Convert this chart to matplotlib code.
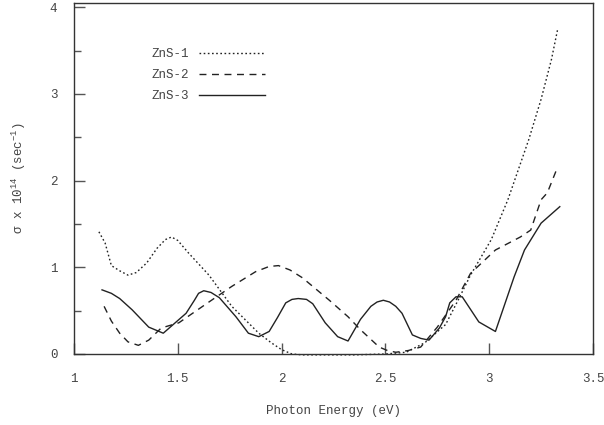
import matplotlib
matplotlib.use("Agg")
import matplotlib.pyplot as plt
from matplotlib.ticker import MultipleLocator

# values (photon energy eV, sigma x 1e14 sec^-1)
zns1_x = [1.12, 1.15, 1.18, 1.22, 1.26, 1.30, 1.35, 1.40, 1.44, 1.47, 1.50, 1.55, 1.65, 1.76, 1.89, 1.95,
          2.00, 2.05, 2.10, 2.20, 2.35, 2.50, 2.60, 2.69, 2.79, 2.85, 2.91, 3.01, 3.09, 3.19, 3.25,
          3.30, 3.33]
zns1_y = [1.41, 1.28, 1.02, 0.96, 0.91, 0.94, 1.05, 1.22, 1.32, 1.35, 1.31, 1.17, 0.91, 0.55, 0.24, 0.13,
          0.05, 0.0, -0.01, -0.01, -0.01, 0.00, 0.02, 0.13, 0.34, 0.62, 0.91, 1.32, 1.78, 2.47, 2.94,
          3.40, 3.75]

zns2_x = [1.145, 1.18, 1.22, 1.26, 1.31, 1.36, 1.42, 1.505, 1.65, 1.76, 1.875, 1.94, 1.985, 2.04, 2.10,
          2.23, 2.32, 2.38, 2.47, 2.51, 2.55, 2.61, 2.67, 2.75, 2.84, 2.91, 3.03, 3.15, 3.20, 3.25,
          3.28, 3.33]
zns2_y = [0.55, 0.38, 0.24, 0.14, 0.10, 0.16, 0.30, 0.36, 0.60, 0.78, 0.95, 1.01, 1.02, 0.97, 0.88,
          0.62, 0.43, 0.28, 0.08, 0.04, 0.02, 0.04, 0.08, 0.31, 0.62, 0.93, 1.20, 1.35, 1.43, 1.78,
          1.86, 2.16]

zns3_x = [1.135, 1.18, 1.22, 1.28, 1.36, 1.43, 1.54, 1.58, 1.60, 1.625, 1.66, 1.70, 1.78, 1.84, 1.89,
          1.94, 1.98, 2.02, 2.05, 2.08, 2.12, 2.15, 2.21, 2.27, 2.32, 2.38, 2.43, 2.46, 2.49, 2.52,
          2.55, 2.58, 2.63, 2.67, 2.71, 2.76, 2.79, 2.81, 2.84, 2.87, 2.95, 3.03, 3.12, 3.17, 3.25,
          3.34]
zns3_y = [0.74, 0.70, 0.64, 0.51, 0.31, 0.24, 0.47, 0.62, 0.70, 0.73, 0.71, 0.65, 0.43, 0.24, 0.20,
          0.26, 0.42, 0.59, 0.63, 0.64, 0.63, 0.58, 0.36, 0.20, 0.15, 0.40, 0.55, 0.60, 0.62, 0.60,
          0.55, 0.47, 0.22, 0.18, 0.16, 0.30, 0.43, 0.59, 0.66, 0.66, 0.37, 0.26, 0.89, 1.20, 1.51,
          1.70]

labels = ["ZnS-1", "ZnS-2", "ZnS-3"]
x_ticks = [1, 1.5, 2, 2.5, 3, 3.5]
y_ticks = [0, 1, 2, 3, 4]

plt.rcParams.update({
    "font.family": ["Liberation Mono", "DejaVu Sans Mono"],
    "mathtext.default": "regular",
    "font.size": 9,
})

fig = plt.figure(figsize=(6.04, 4.25), dpi=100)
ax = fig.add_axes([74 / 604, 1 - 354 / 425, (593 - 74) / 604, (354 - 3) / 425])

ink = "#222222"
ax.plot(zns1_x, zns1_y, color=ink, lw=1.0, ls=(0, (1.2, 1.8)), label=labels[0], clip_on=False)
ax.plot(zns2_x, zns2_y, color=ink, lw=1.0, ls=(0, (5, 4)), label=labels[1])
ax.plot(zns3_x, zns3_y, color=ink, lw=1.0, ls="-", label=labels[2])

ax.set_xlim(1, 3.5)
ax.set_ylim(0, 4.05)
ax.set_xticks(x_ticks)
ax.set_xticklabels([f"{t:g}" for t in x_ticks])
ax.set_yticks(y_ticks)
ax.yaxis.set_minor_locator(MultipleLocator(0.5))

ax.tick_params(axis="both", which="major", direction="in", length=8, width=1.0,
               color="#555555", labelcolor="#444444", top=False, right=False)
ax.tick_params(axis="y", which="minor", direction="in", length=5, width=1.0,
               color="#555555", right=False)
ax.tick_params(axis="x", pad=14)
ax.tick_params(axis="y", pad=12)

for side in ax.spines.values():
    side.set_color("#333333")
    side.set_linewidth(1.0)

ax.set_xlabel("Photon Energy (eV)", color="#444444", labelpad=14)
ax.set_ylabel(r"σ x 10$^{14}$ (sec$^{-1}$)", color="#444444", labelpad=16)

leg = ax.legend(loc="upper left", bbox_to_anchor=(0.14, 0.885), frameon=False,
                markerfirst=False, handlelength=5.3, handletextpad=0.8, labelspacing=0.72,
                borderaxespad=0)
for t in leg.get_texts():
    t.set_color("#444444")

fig.savefig("out.png", dpi=100)
